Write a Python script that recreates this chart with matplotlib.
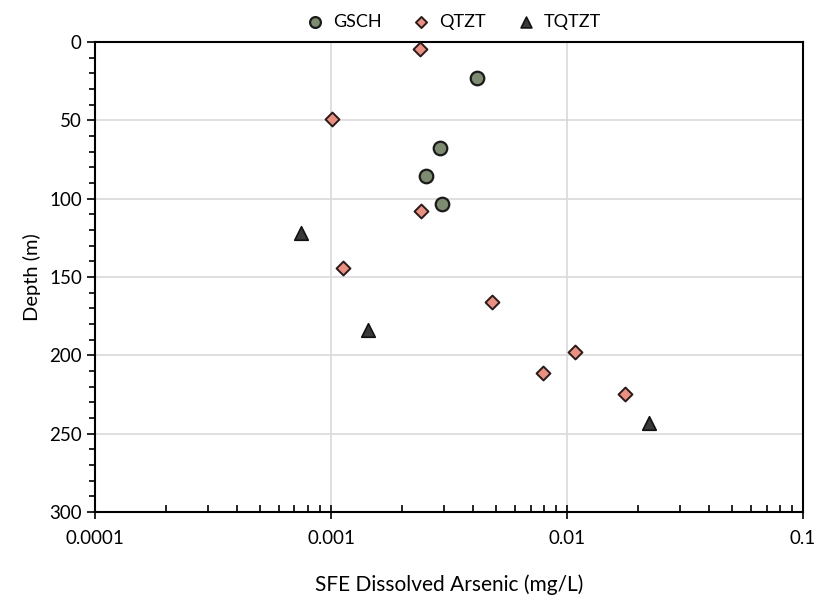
import matplotlib.pyplot as plt
from matplotlib.ticker import FixedLocator, LogLocator, NullFormatter, MultipleLocator

plt.rcParams['font.family'] = ['Lato', 'DejaVu Sans']

# SFE dissolved arsenic (mg/L) vs depth (m)
gsch_as = [0.00416, 0.0029, 0.00253, 0.00295]
gsch_depth = [23, 67.5, 85.5, 103.5]

qtzt_as = [0.00238, 0.00101, 0.0024, 0.00112, 0.00481, 0.0108, 0.0079, 0.0176]
qtzt_depth = [4.5, 49, 108, 144, 166, 198, 211, 224.5]

tqtzt_as = [0.000746, 0.001435, 0.0222]
tqtzt_depth = [122, 184, 243]

x_ticks = [0.0001, 0.001, 0.01, 0.1]
x_labels = ['0.0001', '0.001', '0.01', '0.1']

fig = plt.figure(figsize=(8.17, 6.01), dpi=100)
ax = fig.add_axes([0.1163, 0.148, 0.8667, 0.782])

ax.scatter(gsch_as, gsch_depth, marker='o', s=95, c='#7d8b70',
           edgecolors='#1a1a1a', linewidths=1.6, label='GSCH', zorder=3)
ax.scatter(qtzt_as, qtzt_depth, marker='D', s=50, c='#ea9082',
           edgecolors='#2a1a1a', linewidths=1.4, label='QTZT', zorder=3)
ax.scatter(tqtzt_as, tqtzt_depth, marker='^', s=95, c='#3a3a3a',
           edgecolors='#111111', linewidths=1.2, label='TQTZT', zorder=3)

ax.set_xscale('log')
ax.set_xlim(0.0001, 0.1)
ax.set_ylim(300, 0)
ax.set_xticks(x_ticks)
ax.set_xticklabels(x_labels)
ax.xaxis.set_minor_locator(LogLocator(base=10, subs=range(2, 10), numticks=20))
ax.xaxis.set_minor_formatter(NullFormatter())
ax.yaxis.set_major_locator(MultipleLocator(50))
ax.yaxis.set_minor_locator(MultipleLocator(10))

ax.grid(True, which='major', color='#d9d9d9', linewidth=1.2)
ax.set_axisbelow(True)
for sp in ax.spines.values():
    sp.set_color('black')
    sp.set_linewidth(1.5)

ax.tick_params(axis='x', which='major', direction='inout', length=10, width=1.2,
               labelsize=13.5, pad=8, top=False)
ax.tick_params(axis='x', which='minor', direction='in', length=5, width=1.2, top=False)
ax.tick_params(axis='y', which='major', direction='out', length=6, width=1.2,
               labelsize=13.5, right=False)
ax.tick_params(axis='y', which='minor', direction='out', length=4, width=1.2, right=False)

ax.set_xlabel('SFE Dissolved Arsenic (mg/L)', fontsize=15, labelpad=20)
ax.set_ylabel('Depth (m)', fontsize=14.5, labelpad=6)

ax.legend(loc='lower center', bbox_to_anchor=(0.5, 1.01), ncol=3, frameon=False,
          fontsize=13, handletextpad=0.0, columnspacing=1.2, borderaxespad=0.0,
          markerscale=0.8)

fig.savefig('out.png', dpi=100)
